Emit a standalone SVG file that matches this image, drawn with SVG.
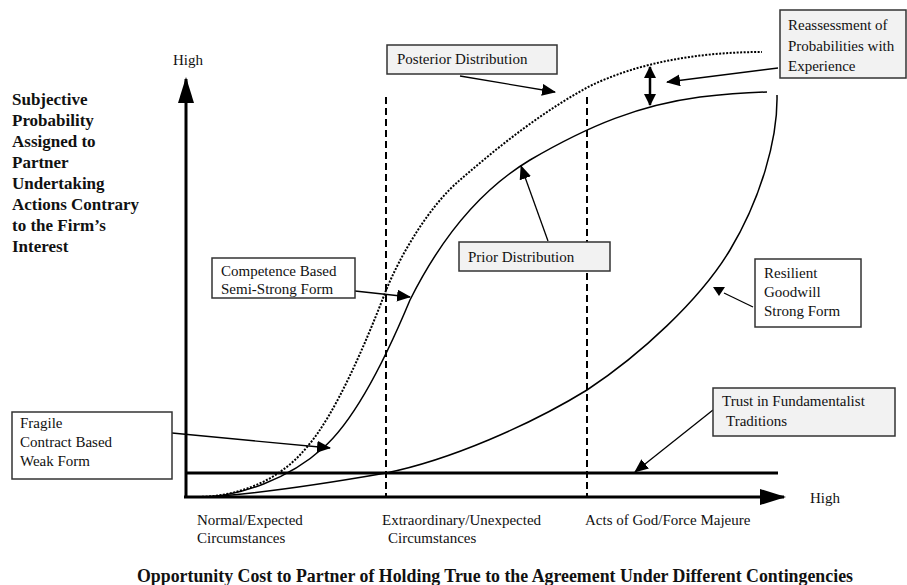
<svg xmlns="http://www.w3.org/2000/svg" width="907" height="585" viewBox="0 0 907 585">
<style>
text{font-family:"Liberation Serif","Times New Roman",serif;font-size:15px;fill:#111}
.b{font-weight:bold;font-size:18px}
.t{font-size:17px;font-weight:bold}
.box{fill:#fff;stroke:#333;stroke-width:1.5}
.gbox{fill:#f2f2f2;stroke:#333;stroke-width:1.5}
.ax{stroke:#000;stroke-width:3;fill:none}
.dash{stroke:#000;stroke-width:2;stroke-dasharray:7,4;fill:none}
.cur{stroke:#000;stroke-width:1.5;fill:none}
.dot{stroke:#000;stroke-width:2;stroke-dasharray:2,1.5;fill:none}
.con{stroke:#000;stroke-width:1.3;fill:none;marker-end:url(#ah)}
</style>
<defs>
<marker id="ah" markerUnits="userSpaceOnUse" markerWidth="14" markerHeight="12" refX="13" refY="6" orient="auto"><path d="M0,0 L14,6 L0,12 z" fill="#000"/></marker>
<marker id="ax" markerUnits="userSpaceOnUse" markerWidth="26" markerHeight="16" refX="24" refY="8" orient="auto"><path d="M0,0 L26,8 L0,16 z" fill="#000"/></marker>
<marker id="dh" markerUnits="userSpaceOnUse" markerWidth="12" markerHeight="12" refX="11" refY="6" orient="auto-start-reverse"><path d="M0,0 L12,6 L0,12 z" fill="#000"/></marker>
</defs>
<g id="axes">
<line class="ax" x1="186" y1="497" x2="186" y2="79" marker-end="url(#ax)"/>
<line class="ax" x1="184" y1="497" x2="784" y2="497" marker-end="url(#ax)"/>
<line class="ax" x1="186" y1="473" x2="778" y2="473"/>
<line class="dash" x1="386" y1="97" x2="386" y2="497"/>
<line class="dash" x1="587" y1="97" x2="587" y2="497"/>
<text x="173" y="65">High</text>
<text x="810" y="503">High</text>
<text x="197" y="525">Normal/Expected</text>
<text x="197" y="543">Circumstances</text>
<text x="382" y="525">Extraordinary/Unexpected</text>
<text x="388" y="543">Circumstances</text>
<text x="585" y="525">Acts of God/Force Majeure</text>
<text class="b" x="137" y="582" textLength="716" lengthAdjust="spacingAndGlyphs">Opportunity Cost to Partner of Holding True to the Agreement Under Different Contingencies</text>
<g><text class="t" x="12" y="105">Subjective</text><text class="t" x="12" y="126">Probability</text><text class="t" x="12" y="147">Assigned to</text><text class="t" x="12" y="168">Partner</text><text class="t" x="12" y="189">Undertaking</text><text class="t" x="12" y="210">Actions Contrary</text><text class="t" x="12" y="231">to the Firm’s</text><text class="t" x="12" y="252">Interest</text></g>
</g>
<g id="curves">
<path id="prior" class="cur" d="M200,497 C240,497 290,478 323,448 C355,420 385,360 410,300 C440,240 480,190 530,160 C590,125 640,105 700,97 Q735,93 767,92"/>
<path id="posterior" class="dot" d="M195,497 C240,497 280,480 307,447 C335,415 365,345 385,293 C400,255 430,205 460,180 C500,145 545,110 590,86 C640,62 700,52 762,52"/>
<path id="resilient" class="cur" d="M205,497 C240,495 300,488 386,473 C450,460 530,425 587,390 C640,355 700,300 730,250 C760,200 778,140 777,95"/>
</g>
<g id="connectors">
<line class="con" x1="460" y1="76" x2="555" y2="92"/>
<line class="con" x1="778" y1="68" x2="667" y2="82"/>
<line x1="650" y1="67" x2="650" y2="105" stroke="#000" stroke-width="2.5" marker-start="url(#dh)" marker-end="url(#dh)"/>
<line class="con" x1="548" y1="241" x2="521" y2="166"/>
<line class="con" x1="355" y1="291" x2="410" y2="297"/>
<line class="con" x1="172" y1="433" x2="330" y2="448"/>
<line x1="753" y1="307" x2="724" y2="293" stroke="#000" stroke-width="1.3"/>
<polygon points="713,287 725,287 719,296" fill="#000"/>
<line class="con" x1="713" y1="410" x2="635" y2="472"/>
</g>
<g id="posterior-box"><rect class="gbox" x="387" y="45" width="170" height="29"/><text x="397" y="64">Posterior Distribution</text></g>
<g id="reassessment-box"><rect class="gbox" x="780" y="10" width="126" height="68"/><text x="788" y="30">Reassessment of</text><text x="788" y="51">Probabilities with</text><text x="788" y="71">Experience</text></g>
<g id="prior-box"><rect class="gbox" x="459" y="242" width="151" height="29"/><text x="468" y="262">Prior Distribution</text></g>
<g id="competence-box"><rect class="box" x="212" y="258" width="143" height="40"/><text x="221" y="276">Competence Based</text><text x="221" y="294">Semi-Strong Form</text></g>
<g id="resilient-box"><rect class="box" x="755" y="259" width="106" height="68"/><text x="764" y="278">Resilient</text><text x="764" y="297">Goodwill</text><text x="764" y="316">Strong Form</text></g>
<g id="fragile-box"><rect class="box" x="12" y="412" width="160" height="67"/><text x="20" y="428">Fragile</text><text x="20" y="447">Contract Based</text><text x="20" y="466">Weak Form</text></g>
<g id="trust-box"><rect class="gbox" x="713" y="388" width="182" height="48"/><text x="722" y="406">Trust in Fundamentalist</text><text x="726" y="426">Traditions</text></g>
</svg>
